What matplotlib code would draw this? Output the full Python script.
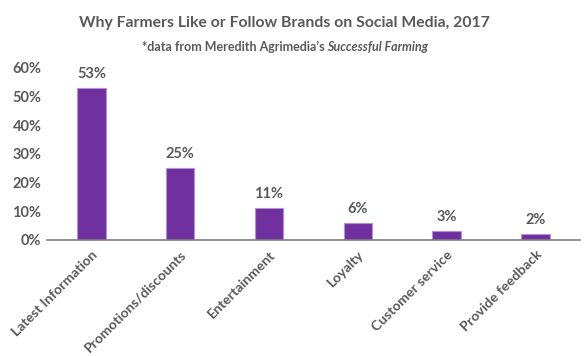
import numpy as np
import matplotlib.pyplot as plt

# === Données ===
categories = ["Latest Information", "Promotions/discounts", "Entertainment",
              "Loyalty", "Customer service", "Provide feedback"]
values = [53, 25, 11, 6, 3, 2]
yticks = [0, 10, 20, 30, 40, 50, 60]

grey = "#595959"
purple = "#7030A0"
plt.rcParams['font.family'] = ['Lato', 'DejaVu Sans']

fig = plt.figure(figsize=(5.88, 3.56), dpi=100)
ax = fig.add_axes([0.08, 0.326, 0.906, 0.483])

x = np.arange(len(categories))
ax.bar(x, values, width=0.32, color=purple, edgecolor="#b58fd6", linewidth=0.8)
for xi, v in zip(x, values):
    ax.text(xi, v + 2.5, f"{v}%", ha="center", va="bottom", fontsize=10.5,
            fontweight="bold", color=grey)

ax.set_xlim(-0.5, len(categories) - 0.5)
ax.set_ylim(0, 60)
ax.set_yticks(yticks)
ax.set_yticklabels([f"{t}%" for t in yticks], fontsize=10.5, fontweight="bold", color=grey)
ax.set_xticks(x)
ax.set_xticklabels(categories, rotation=45, ha="right", rotation_mode="anchor",
                   fontsize=10, fontweight="bold", color=grey)
ax.tick_params(axis="both", length=0, pad=4)
ax.tick_params(axis="x", pad=6)
for s in ["top", "right", "left"]:
    ax.spines[s].set_visible(False)
ax.spines["bottom"].set_color("#808080")
ax.spines["bottom"].set_linewidth(1.2)

fig.text(0.483, 0.935, "Why Farmers Like or Follow Brands on Social Media, 2017",
         ha="center", va="center", fontsize=11.3, fontweight="bold", color=grey)

# sous-titre : partie normale + partie italique
fig.canvas.draw()
r = fig.canvas.get_renderer()
t1 = fig.text(0, 0.868, "*data from Meredith Agrimedia\u2019s ",
              va="center", fontsize=9, fontweight="bold", color=grey)
t2 = fig.text(0, 0.868, "Successful Farming", va="center", fontsize=9,
              fontweight="bold", fontstyle="italic", color=grey)
w1 = t1.get_window_extent(r).width / fig.bbox.width
w2 = t2.get_window_extent(r).width / fig.bbox.width
x0 = 0.485 - (w1 + w2) / 2
t1.set_x(x0)
t2.set_x(x0 + w1)

fig.savefig("out.png", dpi=100)
